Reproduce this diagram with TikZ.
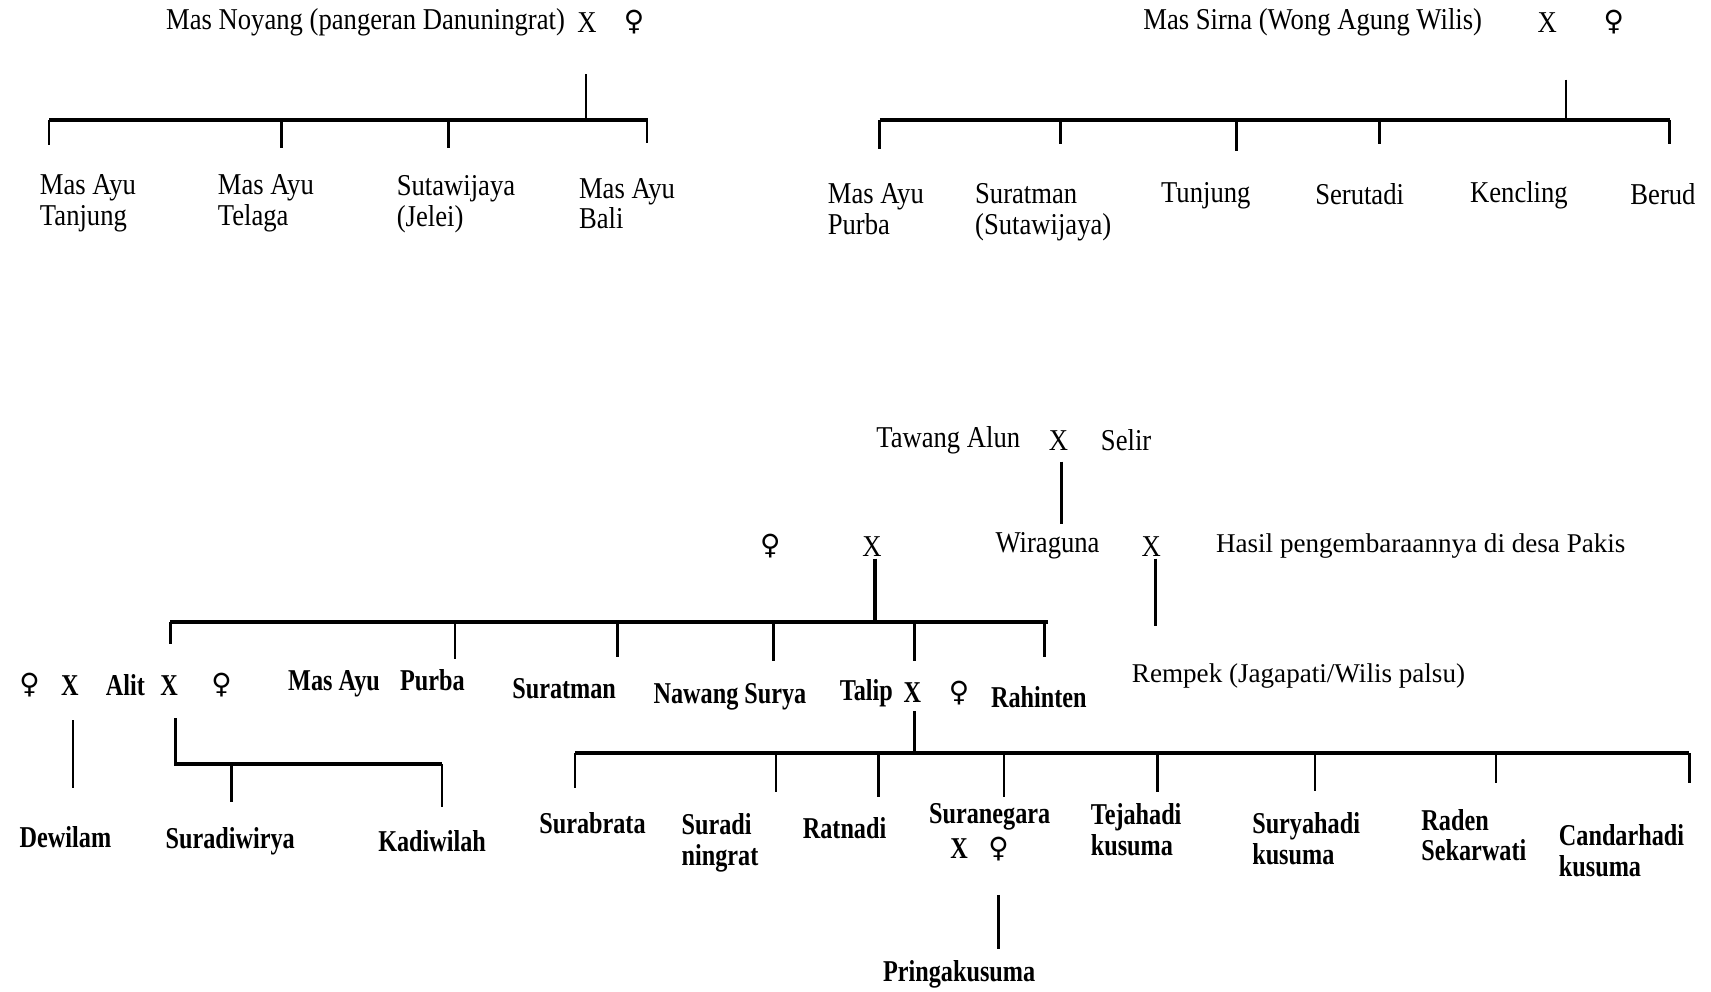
\documentclass[tikz,border=0pt]{standalone}
\usepackage{fontspec}
\setmainfont[FakeStretch=0.88]{Liberation Serif}
\newfontfamily\boldcond[FakeStretch=0.8]{Liberation Serif}
\newfontfamily\plainfont{Liberation Serif}
\newfontfamily\symfont[Scale=0.92]{DejaVu Sans}
\newcommand{\fem}{{\symfont ♀}}

\begin{document}
\begin{tikzpicture}[x=0.0109cm,y=-0.0109cm]
    \tikzstyle{upper} = [inner sep=0pt, yshift=-0.8pt, font=\fontsize{8.6}{8.7}\selectfont]
    \tikzstyle{lower} = [inner sep=0pt, font=\boldcond\bfseries\fontsize{8.6}{8.7}\selectfont]
    \tikzstyle{note} = [inner sep=0pt, yshift=-0.8pt, font=\plainfont\fontsize{7.7}{8.7}\selectfont]
    \tikzstyle{stem} = [line width=0.75pt]
    \tikzstyle{bar} = [line width=1pt]
    \useasboundingbox (0,0) rectangle (1568,909);

    % Mas Noyang and his children
    \node [upper] (Noyang) at (335,18) {Mas Noyang (pangeran Danuningrat)};
    \node [upper] (NoyangX) at (538,18) {X};
    \node [upper] (NoyangF) at (581,18) {\fem};
    \coordinate (NoyangS) at (537,68);
    \coordinate (NoyangJ) at (537,110);
    \coordinate (NoyangL) at (45,110);
    \coordinate (NoyangR) at (594,110);
    \draw [stem] (NoyangS) -- (NoyangJ);
    \draw [bar] (NoyangL) -- (NoyangR);
    \foreach \x/\e [count=\i] in {45/133,258/136,411/136,593/131} {
        \coordinate (NoyangT\i) at (\x,110);
        \coordinate (NoyangB\i) at (\x,\e);
        \draw [stem] (NoyangT\i) -- (NoyangB\i);
    }
    \node [upper, align=left, anchor=north west] (Tanjung) at (36,157) {Mas Ayu\\Tanjung};
    \node [upper, align=left, anchor=north west] (Telaga) at (199,157) {Mas Ayu\\Telaga};
    \node [upper, align=left, anchor=north west] (Jelei) at (363,158) {Sutawijaya\\(Jelei)};
    \node [upper, align=left, anchor=north west] (Bali) at (530,160) {Mas Ayu\\Bali};

    % Mas Sirna and his children
    \node [upper] (Sirna) at (1203,18) {Mas Sirna (Wong Agung Wilis)};
    \node [upper] (SirnaX) at (1418,18) {X};
    \node [upper] (SirnaF) at (1479,18) {\fem};
    \coordinate (SirnaS) at (1435,73);
    \coordinate (SirnaJ) at (1435,110);
    \coordinate (SirnaL) at (806,110);
    \coordinate (SirnaR) at (1530,110);
    \draw [stem] (SirnaS) -- (SirnaJ);
    \draw [bar] (SirnaL) -- (SirnaR);
    \foreach \x/\e [count=\i] in {806/137,972/132,1133/138,1264/132,1530/132} {
        \coordinate (SirnaT\i) at (\x,110);
        \coordinate (SirnaB\i) at (\x,\e);
        \draw [stem] (SirnaT\i) -- (SirnaB\i);
    }
    \node [upper, align=left, anchor=north west] (PurbaTop) at (758,165) {Mas Ayu\\Purba};
    \node [upper, align=left, anchor=north west] (SuratmanTop) at (893,165) {Suratman\\(Sutawijaya)};
    \node [upper] (Tunjung) at (1105,177) {Tunjung};
    \node [upper] (Serutadi) at (1246,175) {Serutadi};
    \node [upper] (Kencling) at (1392,176) {Kencling};
    \node [upper] (Berud) at (1524,175) {Berud};

    % Tawang Alun and Wiraguna
    \node [upper] (Tawang) at (869,401) {Tawang Alun};
    \node [upper] (TawangX) at (970,401) {X};
    \node [upper] (Selir) at (1032,401) {Selir};
    \coordinate (TawangS) at (973,423);
    \coordinate (TawangE) at (973,480);
    \draw [stem] (TawangS) -- (TawangE);

    \node [upper] (WiraF) at (706,498) {\fem};
    \node [upper] (WiraX) at (799,498) {X};
    \node [upper] (Wiraguna) at (960,498) {Wiraguna};
    \node [upper] (PakisX) at (1055,498) {X};
    \node [note] (Pakis) at (1302,498) {Hasil pengembaraannya di desa Pakis};

    % Rempek
    \coordinate (PakisS) at (1059,512);
    \coordinate (PakisE) at (1059,574);
    \draw [stem] (PakisS) -- (PakisE);
    \node [note] (Rempek) at (1190,617) {Rempek (Jagapati/Wilis palsu)};

    % Children of Wiraguna
    \coordinate (WiraS) at (802,512);
    \coordinate (WiraJ) at (802,570);
    \coordinate (WiraL) at (156,570);
    \coordinate (WiraR) at (960,570);
    \draw [bar] (WiraS) -- (WiraJ);
    \draw [bar] (WiraL) -- (WiraR);
    \foreach \x/\e [count=\i] in {156/590,417/604,566/602,709/606,838/606,957/602} {
        \coordinate (WiraT\i) at (\x,570);
        \coordinate (WiraB\i) at (\x,\e);
        \draw [stem] (WiraT\i) -- (WiraB\i);
    }
    \node [lower] (AlitF1) at (27,628) {\fem};
    \node [lower] (AlitX1) at (64,628) {X};
    \node [lower] (Alit) at (115,628) {Alit};
    \node [lower] (AlitX2) at (155,628) {X};
    \node [lower] (AlitF2) at (203,628) {\fem};
    \node [lower] (Purba) at (345,626) {Mas Ayu\hspace{4pt} Purba};
    \node [lower] (Suratman) at (517,631) {Suratman};
    \node [lower] (Nawang) at (669,639) {Nawang Surya};
    \node [lower] (Talip) at (794,635) {Talip};
    \node [lower] (TalipX) at (836,635) {X};
    \node [lower] (TalipF) at (879,635) {\fem};
    \node [lower] (Rahinten) at (952,639) {Rahinten};

    % Children of Alit
    \coordinate (DewiS) at (67,660);
    \coordinate (DewiE) at (67,722);
    \draw [stem] (DewiS) -- (DewiE);
    \node [lower] (Dewilam) at (60,767) {Dewilam};

    \coordinate (AlitS) at (161,658);
    \coordinate (AlitR) at (405,700);
    \draw [bar] (AlitS) |- (AlitR);
    \foreach \x/\e [count=\i] in {212/735,405/740} {
        \coordinate (AlitT\i) at (\x,700);
        \coordinate (AlitB\i) at (\x,\e);
        \draw [stem] (AlitT\i) -- (AlitB\i);
    }
    \node [lower] (Suradiwirya) at (211,771) {Suradiwirya};
    \node [lower] (Kadiwilah) at (396,771) {Kadiwilah};

    % Children of Talip
    \coordinate (TalipS) at (838,652);
    \coordinate (TalipJ) at (838,690);
    \coordinate (TalipL) at (527,690);
    \coordinate (TalipR) at (1548,690);
    \draw [bar] (TalipS) -- (TalipJ);
    \draw [bar] (TalipL) -- (TalipR);
    \foreach \x/\e [count=\i] in {527/722,711/726,805/730,920/730,1061/726,1205/725,1371/718,1548/718} {
        \coordinate (TalipT\i) at (\x,690);
        \coordinate (TalipB\i) at (\x,\e);
        \draw [stem] (TalipT\i) -- (TalipB\i);
    }
    \node [lower] (Surabrata) at (543,754) {Surabrata};
    \node [lower, align=left, anchor=north west] (Suradi) at (624,745) {Suradi\\ningrat};
    \node [lower] (Ratnadi) at (774,759) {Ratnadi};
    \node [lower] (Suranegara) at (907,749) {Suranegara};
    \node [lower] (SuranegaraX) at (879,778) {X};
    \node [lower] (SuranegaraF) at (915,778) {\fem};
    \node [lower, align=left, anchor=north west] (Tejahadi) at (999,736) {Tejahadi\\kusuma};
    \node [lower, align=left, anchor=north west] (Suryahadi) at (1147,744) {Suryahadi\\kusuma};
    \node [lower, align=left, anchor=north west] (Sekarwati) at (1302,741) {Raden\\Sekarwati};
    \node [lower, align=left, anchor=north west] (Candarhadi) at (1428,755) {Candarhadi\\kusuma};

    % Child of Suranegara
    \coordinate (PringaS) at (915,820);
    \coordinate (PringaE) at (915,870);
    \draw [stem] (PringaS) -- (PringaE);
    \node [lower] (Pringakusuma) at (879,893) {Pringakusuma};
\end{tikzpicture}
\end{document}
